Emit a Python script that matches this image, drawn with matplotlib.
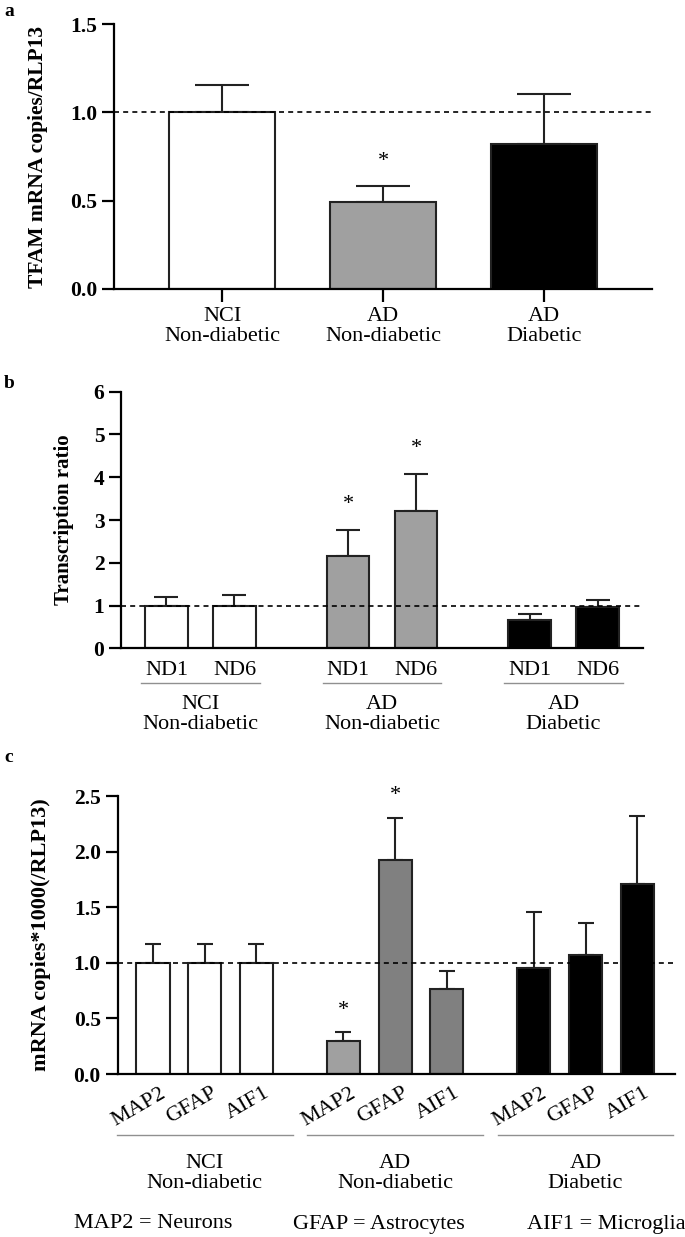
import matplotlib
matplotlib.use("Agg")
import matplotlib.pyplot as plt
from matplotlib.transforms import blended_transform_factory
import numpy as np

plt.rcParams['font.family'] = ['Liberation Serif', 'DejaVu Serif']

# ---------------- data ----------------
a_groups = ["NCI\nNon-diabetic", "AD\nNon-diabetic", "AD\nDiabetic"]
a_values = [1.00, 0.494, 0.82]
a_errors = [0.155, 0.089, 0.285]
a_colors = ["#ffffff", "#a0a0a0", "#000000"]
a_star = [False, True, False]

b_genes = ["ND1", "ND6"]
b_groups = ["NCI\nNon-diabetic", "AD\nNon-diabetic", "AD\nDiabetic"]
b_values = [[1.00, 1.00], [2.16, 3.21], [0.67, 0.97]]
b_errors = [[0.21, 0.25], [0.60, 0.86], [0.13, 0.15]]
b_colors = ["#ffffff", "#a0a0a0", "#000000"]
b_star = [[False, False], [True, True], [False, False]]

c_genes = ["MAP2", "GFAP", "AIF1"]
c_groups = ["NCI\nNon-diabetic", "AD\nNon-diabetic", "AD\nDiabetic"]
c_values = [[1.00, 1.00, 1.00], [0.30, 1.92, 0.76], [0.95, 1.07, 1.71]]
c_errors = [[0.17, 0.17, 0.17], [0.075, 0.38, 0.17], [0.51, 0.29, 0.61]]
c_colors = [["#ffffff"] * 3, ["#a0a0a0", "#808080", "#808080"], ["#000000"] * 3]
c_star = [[False, False, False], [True, True, False], [False, False, False]]

legend_texts = ["MAP2 = Neurons", "GFAP = Astrocytes", "AIF1 = Microglia"]

# ---------------- figure ----------------
W, H = 685, 1237
fig = plt.figure(figsize=(W / 100, H / 100), dpi=100)

def frac_box(x0, x1, ytop, ybot):
    return [x0 / W, 1 - ybot / H, (x1 - x0) / W, (ybot - ytop) / H]

TICKFS = 15.5
CATFS = 16
STARFS = 16

def style_axis(ax):
    for s in ["top", "right"]:
        ax.spines[s].set_visible(False)
    for s in ["left", "bottom"]:
        ax.spines[s].set_linewidth(1.6)
    ax.tick_params(axis="y", direction="out", length=9, width=1.6, labelsize=TICKFS, pad=3)
    for t in ax.get_yticklabels():
        t.set_fontweight("bold")

def draw_err(ax, x, val, err, capsize):
    ax.errorbar([x], [val], yerr=[[0], [err]], fmt="none", ecolor="#222222",
                elinewidth=1.5, capsize=capsize, capthick=1.5, zorder=1)

def ylabel_at(ax, text, xpx, fs):
    ax.set_ylabel(text, fontsize=fs, fontweight="bold")
    ax.yaxis.set_label_coords(xpx / W, 0.5, transform=blended_transform_factory(fig.transFigure, ax.transAxes))

# ---------------- panel a ----------------
axa = fig.add_axes(frac_box(114, 652, 24, 289))
xa = np.arange(len(a_values))
for i in range(len(a_values)):
    draw_err(axa, xa[i], a_values[i], a_errors[i], 19.5)
axa.bar(xa, a_values, width=0.66, color=a_colors, edgecolor="#222222", linewidth=1.5, zorder=2)
for i in range(len(a_values)):
    if a_star[i]:
        axa.text(xa[i], a_values[i] + a_errors[i] + 0.14, "*", ha="center", va="center", fontsize=STARFS)
axa.axhline(1.0, color="black", linestyle=(0, (3, 2.5)), linewidth=1.2, zorder=3)
axa.set_xlim(-0.671, 2.671)
axa.set_ylim(0, 1.5)
axa.set_yticks([0, 0.5, 1.0, 1.5])
axa.set_yticklabels(["0.0", "0.5", "1.0", "1.5"])
axa.set_xticks(xa)
axa.set_xticklabels(a_groups, fontsize=CATFS, linespacing=1.1)
axa.tick_params(axis="x", direction="out", length=9, width=1.6, pad=4)
style_axis(axa)
ylabel_at(axa, "TFAM mRNA copies/RLP13", 48, 15.5)
fig.text(4 / W, 1 - 12 / H, "a", fontsize=14, fontweight="bold", va="center", ha="left")

# ---------------- panel b ----------------
axb = fig.add_axes(frac_box(121, 643, 391.7, 648.3))
gstep_b = 181.5 / 68
xb = []
for g in range(3):
    for k in range(2):
        xb.append(g * gstep_b + k)
xb = np.array(xb)
vb = np.array(b_values).ravel()
eb = np.array(b_errors).ravel()
cb = [b_colors[g] for g in range(3) for k in range(2)]
sb = np.array(b_star).ravel()
for i in range(len(vb)):
    draw_err(axb, xb[i], vb[i], eb[i], 8.3)
axb.bar(xb, vb, width=0.63, color=cb, edgecolor="#222222", linewidth=1.5, zorder=2)
for i in range(len(vb)):
    if sb[i]:
        axb.text(xb[i], vb[i] + eb[i] + 0.6, "*", ha="center", va="center", fontsize=STARFS)
axb.axhline(1.0, color="black", linestyle=(0, (3, 2.5)), linewidth=1.2, zorder=3)
axb.set_xlim(-0.669, 7.007)
axb.set_ylim(0, 6)
axb.set_yticks(range(0, 7))
axb.set_xticks(xb)
axb.set_xticklabels(b_genes * 3, fontsize=CATFS)
axb.tick_params(axis="x", length=0, pad=9)
style_axis(axb)
ylabel_at(axb, "Transcription ratio", 74, 15)
trb = blended_transform_factory(axb.transData, fig.transFigure)
for g in range(3):
    x0 = g * gstep_b - 0.37
    x1 = g * gstep_b + 1 + 0.37
    axb.plot([x0, x1], [1 - 683 / H, 1 - 683 / H], transform=trb, color="#909090",
             linewidth=1.0, clip_on=False)
    axb.text(g * gstep_b + 0.5, 1 - 695 / H, b_groups[g], transform=trb, ha="center",
             va="top", fontsize=CATFS, linespacing=1.05)
fig.text(4 / W, 1 - 383 / H, "b", fontsize=14, fontweight="bold", va="center", ha="left")

# ---------------- panel c ----------------
axc = fig.add_axes(frac_box(117.5, 675, 796, 1074))
gstep_c = 190.5 / 51.7
xc = []
for g in range(3):
    for k in range(3):
        xc.append(g * gstep_c + k)
xc = np.array(xc)
vc = np.array(c_values).ravel()
ec = np.array(c_errors).ravel()
cc = [c for row in c_colors for c in row]
sc = np.array(c_star).ravel()
for i in range(len(vc)):
    draw_err(axc, xc[i], vc[i], ec[i], 5.8)
axc.bar(xc, vc, width=0.64, color=cc, edgecolor="#222222", linewidth=1.5, zorder=2)
for i in range(len(vc)):
    if sc[i]:
        axc.text(xc[i], vc[i] + ec[i] + 0.2, "*", ha="center", va="center", fontsize=STARFS)
axc.axhline(1.0, color="black", linestyle=(0, (3, 2.5)), linewidth=1.2, zorder=3)
axc.set_xlim(-0.687, 10.1)
axc.set_ylim(0, 2.5)
axc.set_yticks([0, 0.5, 1.0, 1.5, 2.0, 2.5])
axc.set_yticklabels(["0.0", "0.5", "1.0", "1.5", "2.0", "2.5"])
axc.set_xticks(xc + 0.13)
axc.set_xticklabels(c_genes * 3, fontsize=16, rotation=30, ha="right",
                    rotation_mode="anchor")
axc.tick_params(axis="x", length=0, pad=7)
style_axis(axc)
ylabel_at(axc, "mRNA copies*1000(/RLP13)", 51, 16)
trc = blended_transform_factory(axc.transData, fig.transFigure)
for g in range(3):
    x0 = g * gstep_c - 0.7
    x1 = g * gstep_c + 2 + 0.7
    axc.plot([x0, x1], [1 - 1135 / H, 1 - 1135 / H], transform=trc, color="#909090",
             linewidth=1.0, clip_on=False)
    axc.text(g * gstep_c + 1, 1 - 1154 / H, c_groups[g], transform=trc, ha="center",
             va="top", fontsize=CATFS, linespacing=1.05)
fig.text(4 / W, 1 - 757 / H, "c", fontsize=14, fontweight="bold", va="center", ha="left")

for xpx, t in zip([153, 379, 606], legend_texts):
    fig.text(xpx / W, 1 - 1224 / H, t, ha="center", va="center", fontsize=CATFS)

fig.savefig("out.png", dpi=100)
